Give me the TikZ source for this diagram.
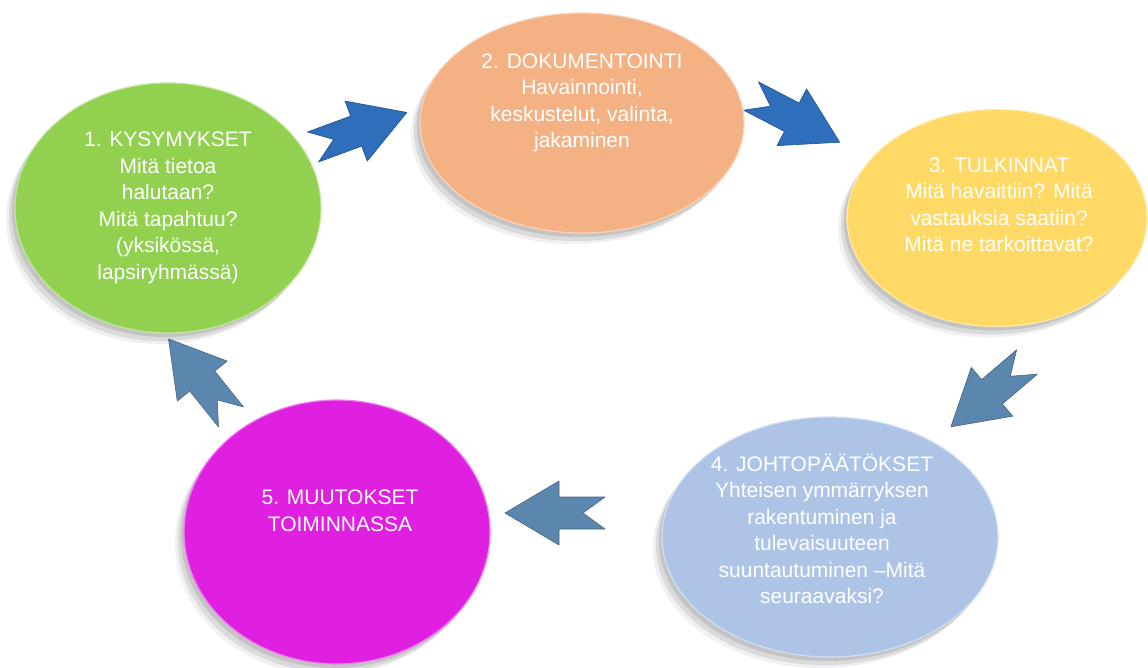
\documentclass[tikz,border=0pt]{standalone}
\usepackage{fontspec}
\setmainfont{Liberation Sans}
\usepackage{tikz}
\usetikzlibrary{shapes.geometric,shadows,calc}

\definecolor{vihrea}{HTML}{92D050}
\definecolor{oranssi}{HTML}{F4B183}
\definecolor{keltainen}{HTML}{FFD966}
\definecolor{vaaleansin}{HTML}{AEC4E6}
\definecolor{magenta}{HTML}{E020E0}
\definecolor{sininen}{HTML}{2E6EBA}
\definecolor{harmaasin}{HTML}{5B86AD}

\tikzset{
  varjo/.style={
    drop shadow={shadow xshift=-3pt, shadow yshift=-4pt, fill=black, opacity=.10},
    drop shadow={shadow xshift=-6pt, shadow yshift=-8pt, fill=black, opacity=.09},
    drop shadow={shadow xshift=-9pt, shadow yshift=-11pt, fill=black, opacity=.06}},
  vaihe/.style={ellipse, fill=#1, draw=#1!55!white, line width=1.2pt, inner sep=0pt, varjo},
  teksti/.style={text=white, align=center, inner sep=0pt,
    font=\fontsize{21}{26.5}\selectfont},
}

% nuoli: vari, hanta, karki
\newcommand\nuoli[3]{%
  \draw[fill=#1, draw=#1!75!black, line width=.6pt, line join=round]
    let \p1=($(#3)-(#2)$), \n1={atan2(\y1,\x1)} in
    [shift={(#2)}, rotate=\n1] (0,16) -- (46,16) -- (46,32) -- (100,0) -- (46,-32)
    -- (46,-16) -- (0,-16) -- (22,0) -- cycle;}

\begin{document}
\begin{tikzpicture}[x=1pt,y=-1pt]
  \useasboundingbox[fill=white] (0,0) rectangle (1148,668);

  % pallot
  \node[vaihe=vihrea, minimum width=306, minimum height=250] (k1) at (168,208) {};
  \node[vaihe=oranssi, minimum width=324, minimum height=220] (k2) at (582,123) {};
  \node[vaihe=keltainen, minimum width=300, minimum height=217] (k3) at (997,218) {};
  \node[vaihe=vaaleansin, minimum width=336, minimum height=240] (k4) at (830,537) {};
  \node[vaihe=magenta, minimum width=306, minimum height=264] (k5) at (337,532) {};

  \node[teksti] (t1) at (k1) {1. KYSYMYKSET\\Mitä tietoa\\halutaan?\\Mitä tapahtuu?\\(yksikössä,\\lapsiryhmässä)};
  \node[teksti] (t2) at (582,103) {2. DOKUMENTOINTI\\Havainnointi,\\keskustelut, valinta,\\jakaminen};
  \node[teksti] (t3) at (999,205) {3. TULKINNAT\\Mitä havaittiin? Mitä\\vastauksia saatiin?\\Mitä ne tarkoittavat?};
  \node[teksti] (t4) at (822,529) {4. JOHTOPÄÄTÖKSET\\Yhteisen ymmärryksen\\rakentuminen ja\\tulevaisuuteen\\suuntautuminen –Mitä\\seuraavaksi?};
  \node[teksti] (t5) at (340,511) {5. MUUTOKSET\\TOIMINNASSA};

  % nuolten hannat ja karjet
  \coordinate (h12) at (313,147); \coordinate (p12) at (408,112);
  \coordinate (h23) at (751,96);  \coordinate (p23) at (845,145);
  \coordinate (h34) at (1027,362); \coordinate (p34) at (953,425);
  \coordinate (h45) at (605,513); \coordinate (p45) at (505,513);
  \coordinate (h51) at (231,417); \coordinate (p51) at (167,337);

  \nuoli{sininen}{h12}{p12}
  \nuoli{sininen}{h23}{p23}
  \nuoli{harmaasin}{h34}{p34}
  \nuoli{harmaasin}{h45}{p45}
  \nuoli{harmaasin}{h51}{p51}
\end{tikzpicture}
\end{document}
